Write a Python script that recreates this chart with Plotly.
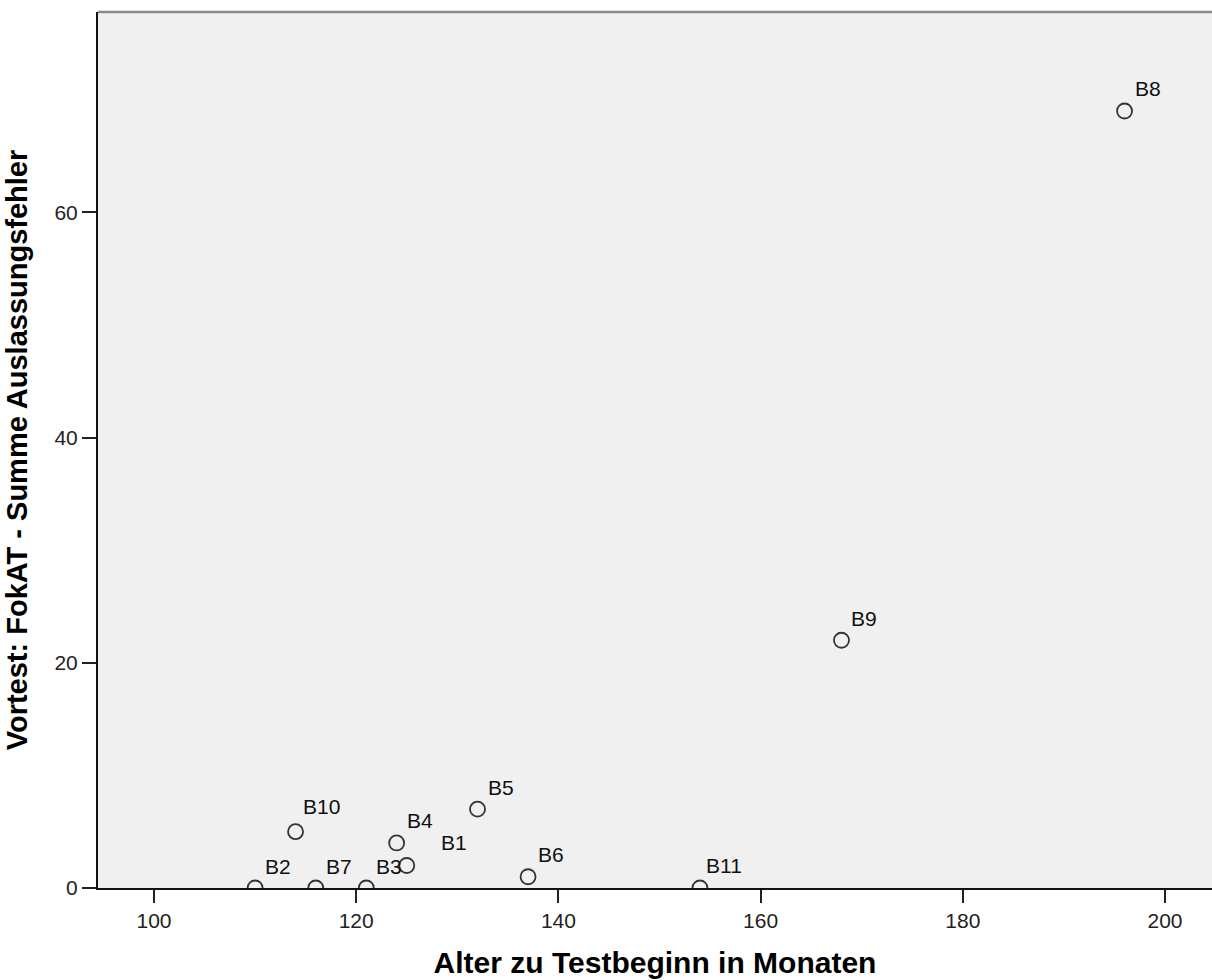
import plotly.graph_objects as go

# Data
labels = ["B1", "B2", "B3", "B4", "B5", "B6", "B7", "B8", "B9", "B10", "B11"]
alter_monate = [125, 110, 121, 124, 132, 137, 116, 196, 168, 114, 154]
auslassungsfehler = [2, 0, 0, 4, 7, 1, 0, 69, 22, 5, 0]

x_ticks = [100, 120, 140, 160, 180, 200]
y_ticks = [0, 20, 40, 60]

FONT = "Liberation Sans, Arial, sans-serif"
INK = "#222222"

fig = go.Figure()
fig.add_trace(go.Scatter(
    x=alter_monate, y=auslassungsfehler, mode="markers",
    marker=dict(symbol="circle-open", size=15, color="#333333", line=dict(width=1.8, color="#333333")),
    cliponaxis=True, hoverinfo="skip", showlegend=False,
))

# label offsets (pixels): default and a few individually placed labels
default_shift = (8, 22)
shift_override = {"B1": (32, 23), "B10": (5, 25), "B11": (4, 23)}
for lab, xv, yv in zip(labels, alter_monate, auslassungsfehler):
    dx, dy = shift_override.get(lab, default_shift)
    fig.add_annotation(x=xv, y=yv, text=lab, showarrow=False, xanchor="left", yanchor="middle",
                       xshift=dx, yshift=dy, font=dict(family=FONT, size=21, color="#111111"))

# top border of plot frame
fig.add_shape(type="line", xref="paper", yref="paper", x0=0, x1=1, y0=1, y1=1,
              line=dict(color="#8a8a8a", width=2.5))

fig.update_layout(
    width=1212, height=980,
    margin=dict(l=98, r=0, t=12, b=92),
    paper_bgcolor="white", plot_bgcolor="#F0F0F0",
    font=dict(family=FONT, color=INK),
    xaxis=dict(
        range=[94.46, 204.65], tickvals=x_ticks, ticks="outside", ticklen=13, tickwidth=2,
        tickcolor=INK, showline=True, linecolor="#111111", linewidth=2, showgrid=False, zeroline=False,
        tickfont=dict(family=FONT, size=21, color=INK),
        title=dict(text="<b>Alter zu Testbeginn in Monaten</b>", font=dict(family=FONT, size=30, color="#000000"),
                   standoff=21),
    ),
    yaxis=dict(
        range=[0, 77.79], tickvals=y_ticks, ticks="outside", ticklen=14, tickwidth=2,
        tickcolor=INK, showline=True, linecolor="#111111", linewidth=2, showgrid=False, zeroline=False,
        tickfont=dict(family=FONT, size=21, color=INK),
        title=dict(text="<b>Vortest: FokAT - Summe Auslassungsfehler</b>", font=dict(family=FONT, size=29, color="#000000"),
                   standoff=18),
    ),
)

fig.write_html(
    "out.html",
    config={"displayModeBar": False},
    post_script="document.body.style.margin='0';document.body.style.overflow='hidden';",
)
